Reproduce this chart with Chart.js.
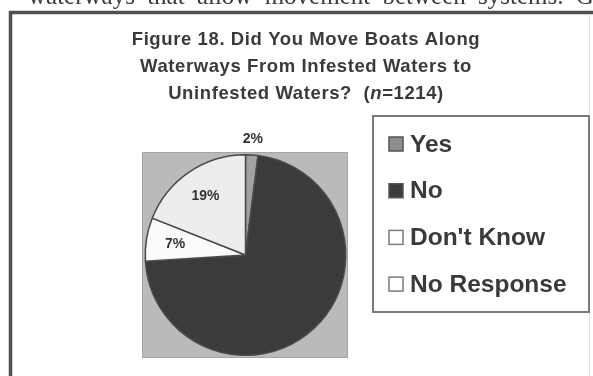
<!DOCTYPE html>
<html>
<head>
<meta charset="utf-8">
<title>Figure 18</title>
<script src="https://cdn.jsdelivr.net/npm/chart.js@4/dist/chart.umd.min.js"></script>
<style>
  html, body { margin: 0; padding: 0; background: #ffffff; }
  #wrap { position: relative; width: 593px; height: 376px; overflow: hidden; }
  canvas { display: block; }
</style>
</head>
<body>
<div id="wrap"><canvas id="chart" width="593" height="376"></canvas></div>
<script>
// Survey answers, in legend order (percent of n = 1214)
const categories = ['Yes', 'No', "Don't Know", 'No Response'];
const shares = [2, 72, 7, 19];
// Slices whose percentage is printed on the figure
const labeledSlices = ['Yes', "Don't Know", 'No Response'];
const titleLines = [
  [{ t: 'Figure 18. Did You Move Boats Along' }],
  [{ t: 'Waterways From Infested Waters to' }],
  [{ t: 'Uninfested Waters?  (' }, { t: 'n', italic: true }, { t: '=1214)' }]
];
const runningText = 'waterways that allow movement between systems. Given';

const sliceColors = ['#a2a2a2', '#3b3b3b', '#fbfbfb', '#ededed'];

const SANS = '"Liberation Sans", Arial, sans-serif';

const decor = {
  id: 'decor',
  beforeDraw(chart) {
    const ctx = chart.ctx;
    const W = chart.width, H = chart.height;
    ctx.save();
    ctx.fillStyle = '#ffffff';
    ctx.fillRect(0, 0, W, H);

    // line of body text running above the figure frame
    ctx.font = '25px "Liberation Serif", "Times New Roman", serif';
    if ('wordSpacing' in ctx) ctx.wordSpacing = '6px';
    ctx.fillStyle = '#3a3a3a';
    ctx.textAlign = 'left';
    ctx.textBaseline = 'alphabetic';
    ctx.fillText(runningText, 28, 4);
    if ('wordSpacing' in ctx) ctx.wordSpacing = '0px';

    // figure frame
    ctx.strokeStyle = '#505050';
    ctx.lineWidth = 3.5;
    ctx.beginPath();
    ctx.moveTo(10.5, H + 5);
    ctx.lineTo(10.5, 12.5);
    ctx.lineTo(W + 5, 12.5);
    ctx.stroke();
    ctx.strokeStyle = '#e2e2e2';
    ctx.lineWidth = 1;
    ctx.beginPath();
    ctx.moveTo(589.5, 15);
    ctx.lineTo(589.5, H);
    ctx.stroke();

    // title
    ctx.fillStyle = '#3a3a3a';
    ctx.textBaseline = 'alphabetic';
    if ('letterSpacing' in ctx) ctx.letterSpacing = '0.6px';
    const baselines = [45, 72, 98.5];
    titleLines.forEach((parts, i) => {
      let total = 0;
      parts.forEach(p => {
        ctx.font = (p.italic ? 'italic ' : '') + 'bold 18.5px ' + SANS;
        total += ctx.measureText(p.t).width;
      });
      let x = 306 - total / 2;
      ctx.textAlign = 'left';
      parts.forEach(p => {
        ctx.font = (p.italic ? 'italic ' : '') + 'bold 18.5px ' + SANS;
        ctx.fillText(p.t, x, baselines[i]);
        x += ctx.measureText(p.t).width;
      });
    });
    if ('letterSpacing' in ctx) ctx.letterSpacing = '0px';

    // grey plot square behind the pie
    const a = chart.chartArea;
    ctx.fillStyle = '#bababa';
    ctx.fillRect(a.left - 1, a.top - 1, a.width + 1, a.height + 2);
    ctx.strokeStyle = '#a5a5a5';
    ctx.lineWidth = 1;
    ctx.strokeRect(a.left - 1.5, a.top - 1.5, a.width + 2, a.height + 3);
    ctx.restore();
  },
  afterDatasetsDraw(chart) {
    const ctx = chart.ctx;
    const meta = chart.getDatasetMeta(0);
    const values = chart.data.datasets[0].data;
    ctx.save();
    ctx.font = 'bold 14px ' + SANS;
    ctx.fillStyle = '#333333';
    ctx.textAlign = 'center';
    ctx.textBaseline = 'middle';
    meta.data.forEach((arc, i) => {
      if (!labeledSlices.includes(chart.data.labels[i])) return;
      const p = arc.getProps(['x', 'y', 'startAngle', 'endAngle', 'outerRadius'], true);
      const mid = (p.startAngle + p.endAngle) / 2;
      const r = values[i] < 5 ? p.outerRadius * 1.16 : p.outerRadius * 0.71;
      ctx.fillText(values[i] + '%', p.x + Math.cos(mid) * r, p.y + Math.sin(mid) * r);
    });
    ctx.restore();
  },
  afterDraw(chart) {
    // boxed legend to the right of the pie
    const ctx = chart.ctx;
    const ds = chart.data.datasets[0];
    ctx.save();
    ctx.fillStyle = '#ffffff';
    ctx.fillRect(373, 116, 216, 196);
    ctx.strokeStyle = '#7a7a7a';
    ctx.lineWidth = 2;
    ctx.strokeRect(373, 116, 216, 196);
    ctx.font = 'bold 24.5px ' + SANS;
    ctx.textAlign = 'left';
    ctx.textBaseline = 'middle';
    chart.data.labels.forEach((lab, i) => {
      const cy = 144 + i * 46.7;
      ctx.fillStyle = i === 0 ? '#8e8e8e' : (i > 1 ? '#ffffff' : ds.backgroundColor[i]);
      ctx.fillRect(389, cy - 7, 14, 14);
      ctx.strokeStyle = i > 1 ? '#7a7a7a' : '#555555';
      ctx.lineWidth = 1.5;
      ctx.strokeRect(389, cy - 7, 14, 14);
      ctx.fillStyle = '#3a3a3a';
      ctx.fillText(lab, 410, cy + 1);
    });
    ctx.restore();
  }
};

new Chart(document.getElementById('chart'), {
  type: 'pie',
  data: {
    labels: categories,
    datasets: [{
      data: shares,
      backgroundColor: sliceColors,
      borderColor: '#4a4a4a',
      borderWidth: 1.5
    }]
  },
  options: {
    responsive: false,
    devicePixelRatio: 1,
    animation: false,
    rotation: 0,
    layout: { padding: { left: 144, right: 246, top: 154, bottom: 20 } },
    plugins: {
      legend: { display: false },
      title: { display: false },
      tooltip: { enabled: false }
    }
  },
  plugins: [decor]
});
</script>
</body>
</html>
